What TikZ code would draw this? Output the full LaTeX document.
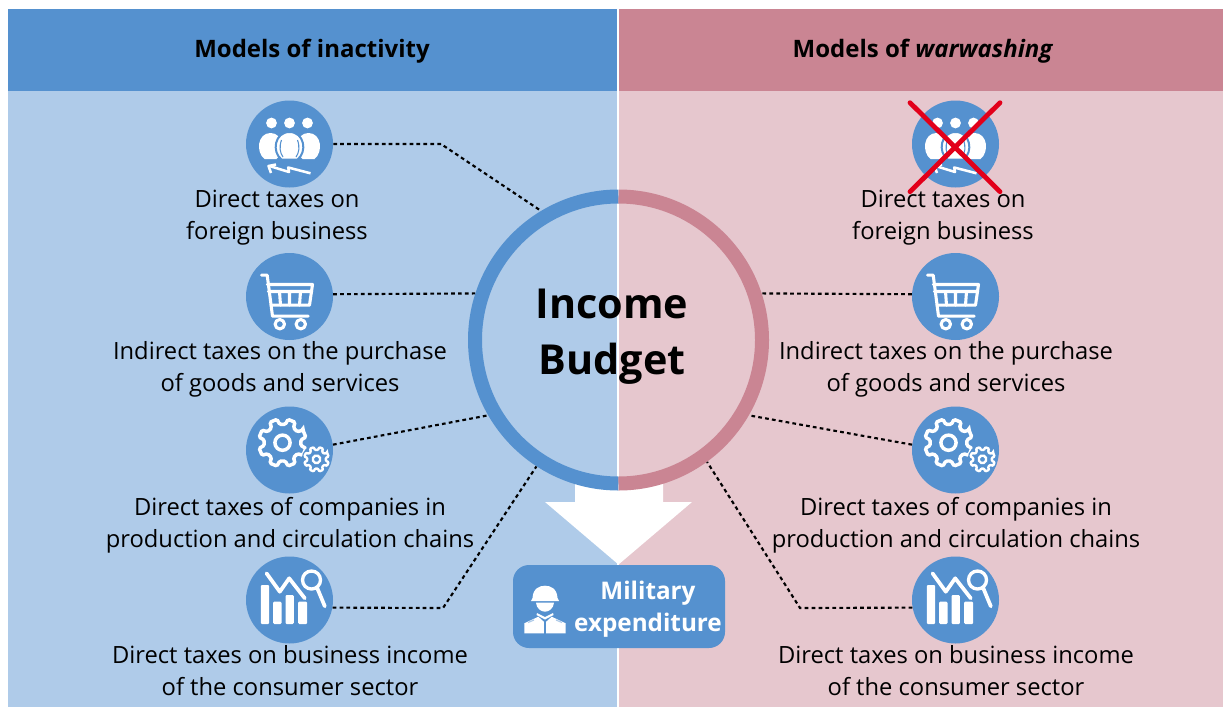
\documentclass[tikz,border=0pt]{standalone}
\usepackage{fontspec}
\setmainfont{Open Sans}
\definecolor{blueM}{HTML}{5591CF}
\definecolor{blueL}{HTML}{AFCBE9}
\definecolor{roseM}{HTML}{CA8593}
\definecolor{roseL}{HTML}{E6C7CE}
\definecolor{xred}{HTML}{E2001A}
\tikzset{x=0.75pt,y=-0.75pt,
  iconcircle/.style={circle,fill=blueM,minimum size=65.25pt,inner sep=0pt},
  label/.style={align=center,text=black,inner sep=0pt,font=\fontsize{17.8}{24}\selectfont},
  head/.style={align=center,text=black,inner sep=0pt,font=\fontsize{18}{24}\selectfont\bfseries},
  link/.style={draw=black,line width=1.6pt,dash pattern=on 2.8pt off 2.4pt},
  wln/.style={draw=white,line width=2.3pt,line join=round,line cap=round},
}
\newcommand\iconpeople[1]{\begin{scope}[shift={(#1)}]
  \foreach \h in {-18,0,18} \fill[white] (\h,-21) circle[radius=5.4];
  \foreach \h in {-19,19} \fill[white] (\h-6,15) .. controls (\h-15,8) and (\h-13,-11) .. (\h,-11) .. controls (\h+13,-11) and (\h+15,8) .. (\h+6,15) -- cycle;
  \fill[white,draw=blueM,line width=1.5pt] (-8,15.5) .. controls (-18,8) and (-15,-12) .. (0,-12) .. controls (15,-12) and (18,8) .. (8,15.5) -- cycle;
  \draw[blueM,line width=0.8pt] (-8,-4) .. controls (-10.5,3) and (-9.5,9) .. (-6.5,13) (8,-4) .. controls (10.5,3) and (9.5,9) .. (6.5,13);
  \draw[wln,line width=1.9pt,line cap=butt] (21,29.3) -- (-1.3,23.5) -- (-0.5,28) -- (-20,22);
  \draw[wln,line width=1.9pt,line cap=butt] (-18.5,29) -- (-21,22) -- (-13.5,20.5);
\end{scope}}
\newcommand\iconcart[1]{\begin{scope}[shift={(#1)}]
  \draw[wln] (-28,-21.3) -- (-22.3,-21.3) -- (-17,19.7) -- (18.7,19.7);
  \draw[wln] (-22,-12) -- (23,-12) -- (20,8.7) -- (-18.5,8.7);
  \draw[wln] (-21,-5) -- (22,-5) (-10,-5) -- (-9,8.7) (0,-5) -- (0,8.7) (11,-5) -- (10,8.7);
  \draw[wln] (-9.7,27.7) circle[radius=4.7] (11.3,27.7) circle[radius=4.7];
\end{scope}}
\newcommand\icongears[1]{\begin{scope}[shift={(#1)}]
  \begin{scope}[shift={(-7,-7.3)},rotate=22.5]
    \draw[white,line width=2.6pt,rounded corners=1pt] (-9:24) \foreach \a in {0,45,...,315} { -- (\a-9:24) -- (\a+9:24) -- (\a+14:18.5) -- (\a+31:18.5)} -- cycle;
    \draw[white,line width=2.6pt] (0,0) circle[radius=7.6];
  \end{scope}
  \begin{scope}[shift={(27,9.3)},rotate=22.5]
    \draw[blueM,fill=blueM,line width=3.5pt] (0,0) circle[radius=12.5];
    \draw[white,line width=1.8pt,rounded corners=0.6pt] (-9:12.4) \foreach \a in {0,45,...,315} { -- (\a-9:12.4) -- (\a+9:12.4) -- (\a+14:9.4) -- (\a+31:9.4)} -- cycle;
    \draw[white,line width=1.8pt] (0,0) circle[radius=3.8];
  \end{scope}
\end{scope}}
\newcommand\iconchart[1]{\begin{scope}[shift={(#1)}]
  \fill[white,rounded corners=0.8pt] (-28.7,-15) rectangle (-20.3,24);
  \fill[white,rounded corners=0.8pt] (-16.3,1.7) rectangle (-8,24);
  \fill[white,rounded corners=0.8pt] (-4,-5) rectangle (4.3,24);
  \fill[white,rounded corners=0.8pt] (8.7,1.7) rectangle (17.7,24);
  \draw[blueM,line width=5.5pt,line join=round] (-23,-26.7) -- (-9.7,-8.3) -- (-0.3,-21.7) -- (15.3,-1.7);
  \draw[wln,line width=2.8pt] (-23,-26.7) -- (-9.7,-8.3) -- (-0.3,-21.7) -- (15.3,-1.7);
  \fill[blueM] (22,-20) circle[radius=11];
  \draw[white,line width=2.5pt] (22,-20) circle[radius=9];
  \draw[wln,line width=2.8pt] (27.5,-12.5) -- (35.3,6.3);
\end{scope}}
\begin{document}
\begin{tikzpicture}
\useasboundingbox (0,0) rectangle (1223,707);
\fill[white] (0,0) rectangle (1223,707);
% panels
\fill[blueL] (8,91) rectangle (617,707);
\fill[roseL] (619,91) rectangle (1223,707);
\fill[blueM] (8,9) rectangle (617,91);
\fill[roseM] (619,9) rectangle (1223,91);
\node[head] (hl) at (312,51.5) {Models of inactivity};
\node[head] (hr) at (923,51.5) {Models of \textit{warwashing}};
% arrow
\fill[white] (575,480) -- (663,480) -- (663,502) -- (692,502) -- (618.5,564.5) -- (545,502) -- (575,502) -- cycle;
% ring
\node[circle,minimum size=225.75pt,inner sep=0pt] (ring) at (618.5,340) {};
\draw[blueM,line width=10.5pt] (618.5,196.5) arc[start angle=270,end angle=90,radius=143.5];
\draw[roseM,line width=10.5pt] (618.5,196.5) arc[start angle=-90,end angle=90,radius=143.5];
\node[inner sep=0pt,align=center,font=\fontsize{31}{42}\selectfont\bfseries] (title) at (612,336.5) {Income\\Budget};
% military box
\node[draw=none,fill=blueM,rounded corners=12pt,minimum width=159pt,minimum height=62.25pt,inner sep=0pt] (mil) at (619,606.5) {};
\node[inner sep=0pt,align=center,text=white,font=\fontsize{18.2}{24}\selectfont\bfseries] (miltext) at (648,609.5) {Military\\expenditure};
\begin{scope}[shift={(mil.center)},shift={(-74,-5.5)}]
  \fill[white] (-14,0) -- (-12.5,-3) .. controls (-12,-13) and (-5,-15.3) .. (0,-15.3) .. controls (5,-15.3) and (12,-13) .. (12.5,-3) -- (14,0) -- cycle;
  \fill[white] (-9,1.7) -- (9,1.7) .. controls (8.5,7.5) and (4,10.7) .. (0,10.7) .. controls (-4,10.7) and (-8.5,7.5) .. (-9,1.7) -- cycle;
  \fill[white] (-20.7,32.3) -- (-20.7,22.3) -- (-6.7,15.7) -- (-1.2,20.7) -- (-1.2,32.3) -- cycle;
  \fill[white] (20.7,32.3) -- (20.7,22.3) -- (6.7,15.7) -- (1.2,20.7) -- (1.2,32.3) -- cycle;
  \fill[white] (-8,12) -- (0,16) -- (8,12) -- (8.5,14) -- (0,18.5) -- (-8.5,14) -- cycle;
  \draw[blueL,line width=0.9pt] (-17,21.5) -- (-11,19) (17,21.5) -- (11,19);
\end{scope}
% left column
\node[iconcircle] (l1) at (289.5,144) {};
\node[iconcircle] (l2) at (289.5,296.5) {};
\node[iconcircle] (l3) at (289.5,450) {};
\node[iconcircle] (l4) at (289.5,600) {};
\iconpeople{l1.center}\iconcart{l2.center}\icongears{l3.center}\iconchart{l4.center}
\node[label] (tl1) at (277,218) {Direct taxes on\\foreign business};
\node[label] (tl2) at (280,369.5) {Indirect taxes on the purchase\\of goods and services};
\node[label] (tl3) at (290,525.5) {Direct taxes of companies in\\production and circulation chains};
\node[label] (tl4) at (290,671) {Direct taxes on business income\\of the consumer sector};
% right column
\node[iconcircle] (r1) at (955.5,144) {};
\node[iconcircle] (r2) at (955.5,296.5) {};
\node[iconcircle] (r3) at (955.5,450) {};
\node[iconcircle] (r4) at (955.5,600) {};
\iconpeople{r1.center}\iconcart{r2.center}\icongears{r3.center}\iconchart{r4.center}
\node[label] (tr1) at (943,218) {Direct taxes on\\foreign business};
\node[label] (tr2) at (946,369.5) {Indirect taxes on the purchase\\of goods and services};
\node[label] (tr3) at (956,525.5) {Direct taxes of companies in\\production and circulation chains};
\node[label] (tr4) at (956,671) {Direct taxes on business income\\of the consumer sector};
\draw[xred,line width=3.6pt,line cap=round] (910,102.7) -- (1000,191.7) (1000,102.7) -- (910,191.7);
% connectors
\coordinate (el1) at (441,144);
\coordinate (el4) at (443,608);
\coordinate (er4) at (800,608);
\draw[link] (l1.east) -- (el1) -- (ring.121.5);
\draw[link] (l2.3) -- (ring.162.3);
\draw[link] (l3.7) -- (ring.210);
\draw[link] (l4.-10) -- (el4) -- (ring.237);
\draw[link] (r2.177) -- (ring.18);
\draw[link] (r3.173) -- (ring.-30.5);
\draw[link] (r4.190) -- (er4) -- (ring.-54.6);
\end{tikzpicture}
\end{document}
